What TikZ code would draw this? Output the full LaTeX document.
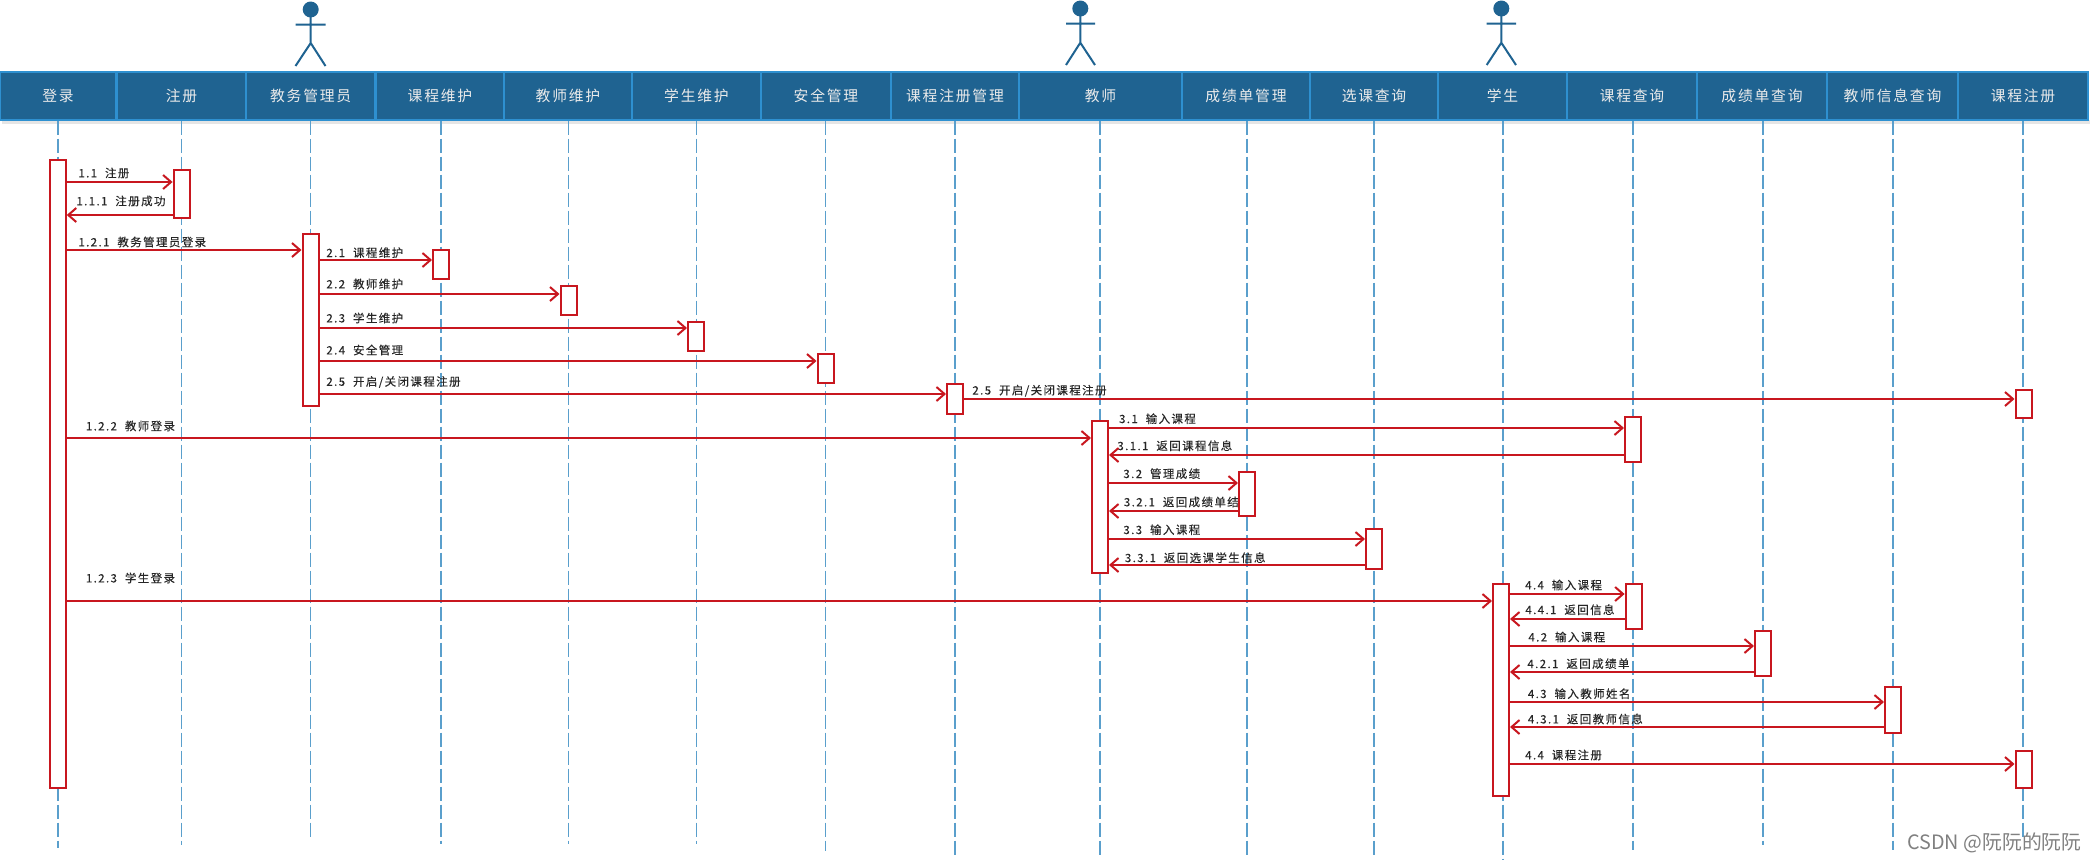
\documentclass[tikz,border=0pt]{standalone}
\usepackage{fontspec}
\setmainfont{Noto Sans CJK SC}
\newfontfamily\headfont[LetterSpace=12]{Noto Sans CJK SC}
\newfontfamily\msgfont[LetterSpace=12,FakeBold=0.15]{Noto Sans CJK SC}
\usetikzlibrary{arrows.meta}
\definecolor{headblue}{HTML}{1F6391}
\definecolor{edgeblue}{HTML}{2E90D0}
\definecolor{lifeblue}{HTML}{5A9FCC}
\definecolor{msgred}{HTML}{C8171F}
\tikzset{
  headbox/.style={draw=edgeblue, fill=headblue, text=white!92!black, line width=1pt, minimum height=24pt, inner sep=0pt, font=\fontsize{7.4}{8}\headfont},
  lifeline/.style={lifeblue, line width=0.6pt, dash pattern=on 7pt off 2pt},
  actbox/.style={draw=msgred, fill=white, line width=1pt, minimum width=8pt, inner sep=0pt},
  msg/.style={msgred, line width=1pt, -{Straight Barb[length=4pt,width=7pt]}},
  msglabel/.style={anchor=west, inner sep=0pt, text=black!85, font=\fontsize{5.75}{6}\msgfont},
  actorline/.style={headblue, line width=1pt}
}
\begin{document}
\begin{tikzpicture}[x=0.5pt, y=-0.5pt]
  \useasboundingbox (0,0) rectangle (2094,862);
  % Actors
  \fill[headblue] (310.7,9.5) ellipse (8 and 8);
  \draw[actorline] (310.7,17) -- (310.7,43) (295.5,24.7) -- (325.5,24.7) (295.5,66) -- (310.7,43) -- (325.5,66);
  \fill[headblue] (1080.3,8.5) ellipse (8 and 8);
  \draw[actorline] (1080.3,16) -- (1080.3,42.7) (1066,23.7) -- (1095,23.7) (1066,65) -- (1080.3,42.7) -- (1095,65);
  \fill[headblue] (1501.3,8.5) ellipse (8 and 8);
  \draw[actorline] (1501.3,16) -- (1501.3,42.7) (1486.7,23.7) -- (1516,23.7) (1486.7,65) -- (1501.3,42.7) -- (1516,65);
  % Header shadow
  \fill[black!10] (2,120) rectangle (2090,124);
  % Header row
  \node[headbox, minimum width=58pt] (denglu) at (58,95.5) {登录};
  \node[headbox, minimum width=64.7pt] (zhuce) at (181.5,95.5) {注册};
  \node[headbox, minimum width=64.7pt] (admin) at (310.7,95.5) {教务管理员};
  \node[headbox, minimum width=64pt] (kcwh) at (440,95.5) {课程维护};
  \node[headbox, minimum width=64.5pt] (jswh) at (568,95.5) {教师维护};
  \node[headbox, minimum width=64.5pt] (xswh) at (696.5,95.5) {学生维护};
  \node[headbox, minimum width=65pt] (aqgl) at (826,95.5) {安全管理};
  \node[headbox, minimum width=64pt] (kczcgl) at (955,95.5) {课程注册管理};
  \node[headbox, minimum width=81.5pt] (teacher) at (1100.5,95.5) {教师};
  \node[headbox, minimum width=64pt] (cjdgl) at (1246,95.5) {成绩单管理};
  \node[headbox, minimum width=64pt] (xkcx) at (1374,95.5) {选课查询};
  \node[headbox, minimum width=64.5pt] (student) at (1502.5,95.5) {学生};
  \node[headbox, minimum width=65pt] (kccx) at (1632,95.5) {课程查询};
  \node[headbox, minimum width=65pt] (cjdcx) at (1762,95.5) {成绩单查询};
  \node[headbox, minimum width=65.5pt] (jsxxcx) at (1892.5,95.5) {教师信息查询};
  \node[headbox, minimum width=65pt] (kczc) at (2023,95.5) {课程注册};
  % Lifeline ends
  \coordinate (dengluend) at (58,848);
  \coordinate (zhuceend) at (181.6,845);
  \coordinate (adminend) at (310.7,839);
  \coordinate (kcwhend) at (441,844);
  \coordinate (jswhend) at (568.5,844);
  \coordinate (xswhend) at (696.5,844);
  \coordinate (aqglend) at (825.5,851);
  \coordinate (kczcglend) at (955,855);
  \coordinate (teacherend) at (1100,855);
  \coordinate (cjdglend) at (1247,855);
  \coordinate (xkcxend) at (1374,855);
  \coordinate (studentend) at (1503,860);
  \coordinate (kccxend) at (1633,850);
  \coordinate (cjdcxend) at (1763,845);
  \coordinate (jsxxcxend) at (1893,850);
  \coordinate (kczcend) at (2023,840);
  % Lifelines
  \draw[lifeline] (dengluend |- denglu.south) -- (dengluend);
  \draw[lifeline] (zhuceend |- zhuce.south) -- (zhuceend);
  \draw[lifeline] (adminend |- admin.south) -- (adminend);
  \draw[lifeline] (kcwhend |- kcwh.south) -- (kcwhend);
  \draw[lifeline] (jswhend |- jswh.south) -- (jswhend);
  \draw[lifeline] (xswhend |- xswh.south) -- (xswhend);
  \draw[lifeline] (aqglend |- aqgl.south) -- (aqglend);
  \draw[lifeline] (kczcglend |- kczcgl.south) -- (kczcglend);
  \draw[lifeline] (teacherend |- teacher.south) -- (teacherend);
  \draw[lifeline] (cjdglend |- cjdgl.south) -- (cjdglend);
  \draw[lifeline] (xkcxend |- xkcx.south) -- (xkcxend);
  \draw[lifeline] (studentend |- student.south) -- (studentend);
  \draw[lifeline] (kccxend |- kccx.south) -- (kccxend);
  \draw[lifeline] (cjdcxend |- cjdcx.south) -- (cjdcxend);
  \draw[lifeline] (jsxxcxend |- jsxxcx.south) -- (jsxxcxend);
  \draw[lifeline] (kczcend |- kczc.south) -- (kczcend);
  % Message labels
  \node[msglabel] (l11) at (78,173) {1.1~~注册};
  \node[msglabel] (l111) at (76,201) {1.1.1~~注册成功};
  \node[msglabel] (l121) at (78,242) {1.2.1~~教务管理员登录};
  \node[msglabel] (l122) at (85.5,426) {1.2.2~~教师登录};
  \node[msglabel] (l123) at (85.5,578) {1.2.3~~学生登录};
  \node[msglabel] (l21) at (326,252.7) {2.1~~课程维护};
  \node[msglabel] (l22) at (326,284) {2.2~~教师维护};
  \node[msglabel] (l23) at (326,318) {2.3~~学生维护};
  \node[msglabel] (l24) at (326,350) {2.4~~安全管理};
  \node[msglabel] (l25) at (326,382) {2.5~~开启/关闭课程注册};
  \node[msglabel] (l25b) at (972,390.7) {2.5~~开启/关闭课程注册};
  \node[msglabel] (l31) at (1118.7,418.7) {3.1~~输入课程};
  \node[msglabel] (l311) at (1117,445.7) {3.1.1~~返回课程信息};
  \node[msglabel] (l32) at (1123,473.7) {3.2~~管理成绩};
  \node[msglabel] (l321) at (1123.5,502) {3.2.1~~返回成绩单结};
  \node[msglabel] (l33) at (1123,529.7) {3.3~~输入课程};
  \node[msglabel] (l331) at (1124.5,557.7) {3.3.1~~返回选课学生信息};
  \node[msglabel] (l44) at (1524.8,585) {4.4~~输入课程};
  \node[msglabel] (l441) at (1525,609.7) {4.4.1~~返回信息};
  \node[msglabel] (l42) at (1528,637) {4.2~~输入课程};
  \node[msglabel] (l421) at (1527,663.7) {4.2.1~~返回成绩单};
  \node[msglabel] (l43) at (1527.5,693.7) {4.3~~输入教师姓名};
  \node[msglabel] (l431) at (1527.5,719) {4.3.1~~返回教师信息};
  \node[msglabel] (l44b) at (1524.8,755) {4.4~~课程注册};
  % Activation boxes
  \node[actbox, minimum height=314pt] (alogin) at (57.75,474) {};
  \node[actbox, minimum height=24pt] (areg) at (181.6,194) {};
  \node[actbox, minimum height=86pt] (aadmin) at (310.5,320) {};
  \node[actbox, minimum height=14.5pt] (akcwh) at (441,264.5) {};
  \node[actbox, minimum height=14.5pt] (ajswh) at (568.5,300.5) {};
  \node[actbox, minimum height=14.5pt] (axswh) at (696,336.5) {};
  \node[actbox, minimum height=14.5pt] (aaqgl) at (825.5,368.2) {};
  \node[actbox, minimum height=14.8pt] (akczcgl) at (955,399.2) {};
  \node[actbox, minimum height=14pt] (akczc) at (2023.5,404) {};
  \node[actbox, minimum height=76pt] (ateacher) at (1100,496.7) {};
  \node[actbox, minimum height=22.6pt] (akccx) at (1633,439.3) {};
  \node[actbox, minimum height=22pt] (acjdgl) at (1247,494.3) {};
  \node[actbox, minimum height=20.1pt] (axkcx) at (1374,548.8) {};
  \node[actbox, minimum height=106pt] (astudent) at (1501,690) {};
  \node[actbox, minimum height=22.6pt] (akccxb) at (1633.6,606.7) {};
  \node[actbox, minimum height=22.6pt] (acjdcx) at (1763,653.3) {};
  \node[actbox, minimum height=22.7pt] (ajsxxcx) at (1893,710) {};
  \node[actbox, minimum height=18.6pt] (akczcb) at (2023.5,769.4) {};
  % Login messages
  \draw[msg] (alogin.east |- 0,182) -- (areg.west |- 0,182);
  \draw[msg] (areg.west |- 0,215) -- (alogin.east |- 0,215);
  \draw[msg] (alogin.east |- 0,250) -- (aadmin.west |- 0,250);
  \draw[msg] (alogin.east |- 0,438) -- (ateacher.west |- 0,438);
  \draw[msg] (alogin.east |- 0,601) -- (astudent.west |- 0,601);
  % Admin messages
  \draw[msg] (aadmin.east |- 0,260) -- (akcwh.west |- 0,260);
  \draw[msg] (aadmin.east |- 0,294) -- (ajswh.west |- 0,294);
  \draw[msg] (aadmin.east |- 0,328) -- (axswh.west |- 0,328);
  \draw[msg] (aadmin.east |- 0,361) -- (aaqgl.west |- 0,361);
  \draw[msg] (aadmin.east |- 0,394) -- (akczcgl.west |- 0,394);
  \draw[msg] (akczcgl.east |- 0,399) -- (akczc.west |- 0,399);
  % Teacher messages
  \draw[msg] (ateacher.east |- 0,428) -- (akccx.west |- 0,428);
  \draw[msg] (akccx.west |- 0,455) -- (ateacher.east |- 0,455);
  \draw[msg] (ateacher.east |- 0,483) -- (acjdgl.west |- 0,483);
  \draw[msg] (acjdgl.west |- 0,511) -- (ateacher.east |- 0,511);
  \draw[msg] (ateacher.east |- 0,539) -- (axkcx.west |- 0,539);
  \draw[msg] (axkcx.west |- 0,565) -- (ateacher.east |- 0,565);
  % Student messages
  \draw[msg] (astudent.east |- 0,594) -- (akccxb.west |- 0,594);
  \draw[msg] (akccxb.west |- 0,619) -- (astudent.east |- 0,619);
  \draw[msg] (astudent.east |- 0,646) -- (acjdcx.west |- 0,646);
  \draw[msg] (acjdcx.west |- 0,672) -- (astudent.east |- 0,672);
  \draw[msg] (astudent.east |- 0,702) -- (ajsxxcx.west |- 0,702);
  \draw[msg] (ajsxxcx.west |- 0,727) -- (astudent.east |- 0,727);
  \draw[msg] (astudent.east |- 0,764) -- (akczcb.west |- 0,764);
  % Watermark
  \node[anchor=west, inner sep=0pt, text=black!50, font=\fontsize{9.9}{12}\selectfont] (mark) at (1907,843) {CSDN @阮阮的阮阮};
\end{tikzpicture}
\end{document}
